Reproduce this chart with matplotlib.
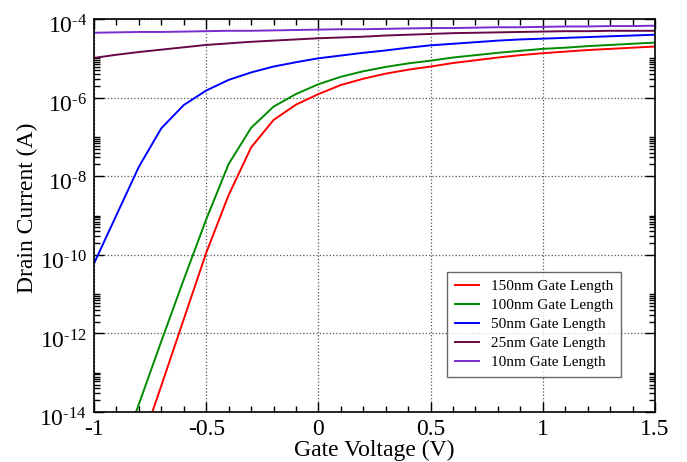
# Drain current vs gate voltage for several gate lengths (log scale)

import numpy as np
import matplotlib
matplotlib.use("Agg")
import matplotlib.pyplot as plt
from matplotlib.ticker import FixedLocator, MultipleLocator, NullFormatter
from matplotlib.transforms import ScaledTranslation

plt.rcParams["font.family"] = ["Liberation Serif", "DejaVu Serif"]
plt.rcParams["mathtext.fontset"] = "custom"
plt.rcParams["mathtext.rm"] = "Liberation Serif"
plt.rcParams["mathtext.it"] = "Liberation Serif:italic"

# ── Data (log10 of drain current, A) ─────────────────────────
gate_voltage = [-1.0, -0.9, -0.8, -0.7, -0.6, -0.5, -0.4, -0.3, -0.2, -0.1, 0.0,
                0.1, 0.2, 0.3, 0.4, 0.5, 0.6, 0.7, 0.8, 0.9, 1.0,
                1.1, 1.2, 1.3, 1.4, 1.5]

log_i_150nm = [-18.4, -16.7, -15.0, -13.33, -11.64, -9.95, -8.48, -7.27, -6.57, -6.18, -5.91,
               -5.68, -5.52, -5.39, -5.29, -5.21, -5.12, -5.05, -4.98, -4.92, -4.87,
               -4.83, -4.79, -4.76, -4.73, -4.70]
log_i_100nm = [-17.0, -15.4, -13.8, -12.2, -10.63, -9.1, -7.69, -6.77, -6.23, -5.91, -5.66,
               -5.47, -5.33, -5.22, -5.13, -5.06, -4.98, -4.92, -4.86, -4.81, -4.76,
               -4.73, -4.69, -4.66, -4.63, -4.60]
log_i_50nm = [-10.22, -8.99, -7.76, -6.78, -6.19, -5.82, -5.55, -5.36, -5.21, -5.10, -5.00,
              -4.93, -4.86, -4.80, -4.73, -4.67, -4.63, -4.59, -4.55, -4.52, -4.50,
              -4.48, -4.46, -4.44, -4.42, -4.40]
log_i_25nm = [-4.99, -4.91, -4.84, -4.78, -4.72, -4.66, -4.62, -4.58, -4.55, -4.52, -4.49,
              -4.47, -4.45, -4.42, -4.40, -4.38, -4.36, -4.35, -4.34, -4.33, -4.32,
              -4.31, -4.31, -4.30, -4.30, -4.30]
log_i_10nm = [-4.35, -4.34, -4.33, -4.33, -4.32, -4.31, -4.30, -4.30, -4.29, -4.28, -4.27,
              -4.26, -4.26, -4.25, -4.24, -4.23, -4.23, -4.22, -4.21, -4.21, -4.20,
              -4.19, -4.19, -4.18, -4.18, -4.17]

series = [
    ("150nm Gate Length", log_i_150nm, "#ff0000"),
    ("100nm Gate Length", log_i_100nm, "#008b00"),
    ("50nm Gate Length", log_i_50nm, "#0000ff"),
    ("25nm Gate Length", log_i_25nm, "#670748"),
    ("10nm Gate Length", log_i_10nm, "#7a2bd0"),
]

x_major = [-1, -0.5, 0, 0.5, 1, 1.5]
x_labels = ["-1", "-0.5", "0", "0.5", "1", "1.5"]
y_major = [1e-14, 1e-12, 1e-10, 1e-8, 1e-6, 1e-4]
y_labels = [r"$10^{\text{-14}}$", r"$10^{\text{-12}}$", r"$10^{\text{-10}}$",
            r"$10^{\text{-8}}$", r"$10^{\text{-6}}$", r"$10^{\text{-4}}$"]

# ── Create plot ──────────────────────────────────────────────
fig = plt.figure(figsize=(6.87, 4.62), dpi=100)
ax = fig.add_axes([94 / 687, 1 - 412 / 462, 561 / 687, 393 / 462])

for label, logs, color in series:
    ax.plot(gate_voltage, 10.0 ** np.array(logs), color=color, linewidth=1.4, label=label)

ax.set_yscale("log")
ax.set_xlim(-1, 1.5)
ax.set_ylim(1e-14, 1e-4)

# Ticks
ax.xaxis.set_major_locator(FixedLocator(x_major))
ax.set_xticklabels(x_labels)
ax.xaxis.set_minor_locator(MultipleLocator(0.1))

ax.yaxis.set_major_locator(FixedLocator(y_major))
ax.set_yticklabels(y_labels)
minor_y = [k * d for d in y_major[:-1] for k in range(2, 11)]
ax.yaxis.set_minor_locator(FixedLocator(minor_y))
ax.yaxis.set_minor_formatter(NullFormatter())

ax.tick_params(which="both", direction="in", top=True, right=True, labelsize=17, width=1.0)
ax.tick_params(which="major", length=7, pad=5)
ax.tick_params(which="minor", length=4)

# nudge the y labels down a little, like the original
shift = ScaledTranslation(0, -4 / 72, fig.dpi_scale_trans)
for lbl in ax.get_yticklabels():
    lbl.set_transform(lbl.get_transform() + shift)

for side in ax.spines.values():
    side.set_linewidth(1.2)

ax.grid(True, which="major", linestyle=":", color="#555555", linewidth=0.9)

ax.set_xlabel("Gate Voltage (V)", fontsize=17, labelpad=0)
ax.set_ylabel("Drain Current (A)", fontsize=17, labelpad=0)
ax.yaxis.set_label_coords(-0.1, 0.52)

leg = ax.legend(loc="lower left", bbox_to_anchor=(0.629, 0.089), fontsize=11,
                frameon=True, fancybox=False, handlelength=1.6, borderpad=0.5,
                labelspacing=0.35, handletextpad=0.8, borderaxespad=0)
leg.get_frame().set_edgecolor("#444444")
leg.get_frame().set_linewidth(1.0)

plt.savefig("out.png", dpi=100)
plt.close()
